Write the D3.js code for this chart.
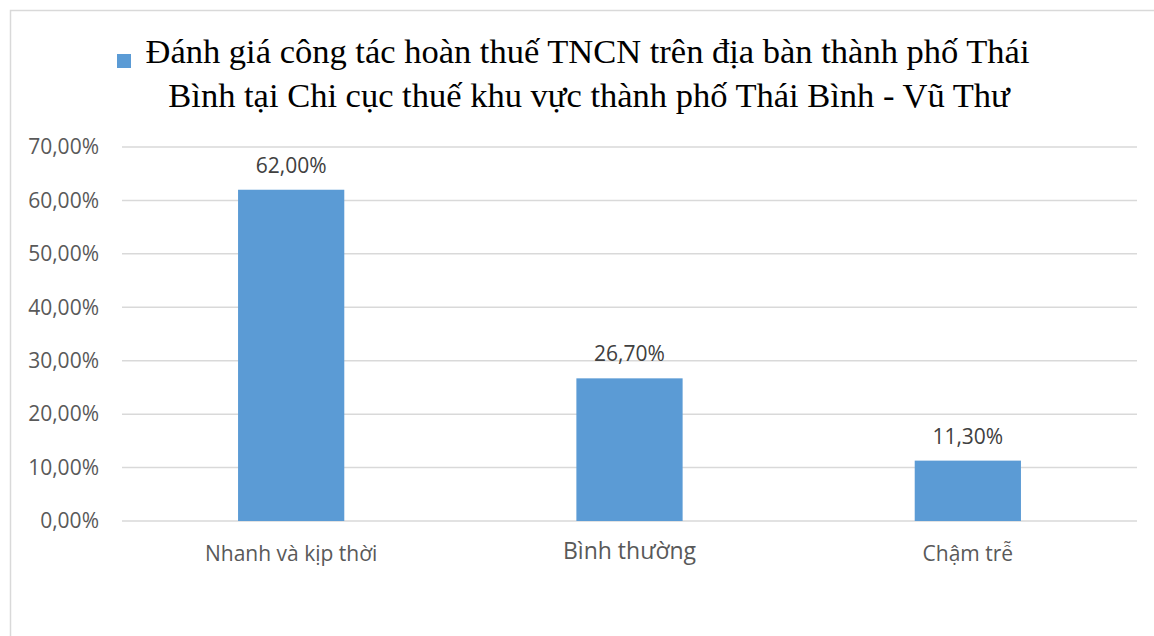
<!DOCTYPE html>
<html>
<head>
<meta charset="utf-8">
<script src="https://cdn.jsdelivr.net/npm/d3@7"></script>
<style>
  body { margin: 0; background: #fff; }
  svg { display: block; }
</style>
</head>
<body>
<svg></svg>
<script>
// chart data
var categories = ["Nhanh và kịp thời", "Bình thường", "Chậm trễ"];
var values = [62.0, 26.7, 11.3];
var yTicks = [0, 10, 20, 30, 40, 50, 60, 70];
var titleLines = [
  "Đánh giá công tác hoàn thuế TNCN trên địa bàn thành phố Thái",
  "Bình tại Chi cục thuế khu vực thành phố Thái Bình - Vũ Thư"
];

var screen = { width: 1154, height: 636 };
var svg = d3.select("svg")
  .attr("width", screen.width)
  .attr("height", screen.height);

var margins = { top: 147, bottom: 115, left: 122, right: 17 };
var width = screen.width - margins.left - margins.right;
var height = screen.height - margins.top - margins.bottom;

// outer frame
svg.append("rect")
  .attr("x", 10.5).attr("y", 10.5)
  .attr("width", 1160).attr("height", 640)
  .attr("fill", "none")
  .attr("stroke", "#d9d9d9")
  .attr("stroke-width", 1.5);

var xScale = d3.scaleBand()
  .domain(categories)
  .range([0, width])
  .paddingInner(0.686)
  .paddingOuter(0.343);

var yScale = d3.scaleLinear()
  .domain([0, 70])
  .range([height, 0]);

var plotLand = svg.append("g")
  .attr("transform", "translate(" + margins.left + "," + margins.top + ")");

// gridlines
plotLand.selectAll("line.grid")
  .data(yTicks)
  .enter()
  .append("line")
  .attr("x1", 0).attr("x2", width)
  .attr("y1", function(d) { return yScale(d); })
  .attr("y2", function(d) { return yScale(d); })
  .attr("stroke", "#d9d9d9")
  .attr("stroke-width", 1.5);

var pct = function(d) { return d3.format(".2f")(d).replace(".", ",") + "%"; };

// y axis
var yAxis = d3.axisLeft(yScale)
  .tickValues(yTicks)
  .tickSize(0)
  .tickPadding(23)
  .tickFormat(pct);
var yG = plotLand.append("g").call(yAxis);
yG.select(".domain").remove();
yG.selectAll("text")
  .attr("font-family", "'Open Sans', sans-serif")
  .attr("font-size", 21)
  .attr("fill", "#595959");

// bars
plotLand.selectAll("rect.bar")
  .data(values)
  .enter()
  .append("rect")
  .attr("x", function(d, i) { return xScale(categories[i]); })
  .attr("y", function(d) { return yScale(d); })
  .attr("width", xScale.bandwidth())
  .attr("height", function(d) { return height - yScale(d); })
  .attr("fill", "#5b9bd5");

// data labels
plotLand.selectAll("text.lbl")
  .data(values)
  .enter()
  .append("text")
  .attr("x", function(d, i) { return xScale(categories[i]) + xScale.bandwidth() / 2; })
  .attr("y", function(d) { return yScale(d) - 17; })
  .attr("text-anchor", "middle")
  .attr("font-family", "'Open Sans', sans-serif")
  .attr("font-size", 21)
  .attr("fill", "#404040")
  .text(pct);

// x axis
var xAxis = d3.axisBottom(xScale).tickSize(0).tickPadding(0);
var xG = plotLand.append("g")
  .attr("transform", "translate(0," + height + ")")
  .call(xAxis);
xG.select(".domain").remove();
xG.selectAll("text")
  .attr("dy", null)
  .attr("y", function(d) { return d == "Bình thường" ? 38 : 40; })
  .attr("font-family", "'Open Sans', sans-serif")
  .attr("font-size", function(d) { return d == "Bình thường" ? 23 : 21; })
  .attr("fill", "#595959");

// title with legend marker
svg.append("rect")
  .attr("x", 117).attr("y", 54)
  .attr("width", 14).attr("height", 14)
  .attr("fill", "#5b9bd5");

svg.selectAll("text.title")
  .data(titleLines)
  .enter()
  .append("text")
  .attr("x", function(d, i) { return i == 0 ? 587.5 : 589; })
  .attr("y", function(d, i) { return 63 + i * 44; })
  .attr("text-anchor", "middle")
  .attr("font-family", "'Liberation Serif', 'Times New Roman', serif")
  .attr("font-size", 34.5)
  .attr("fill", "#000")
  .text(function(d) { return d; });
</script>
</body>
</html>
